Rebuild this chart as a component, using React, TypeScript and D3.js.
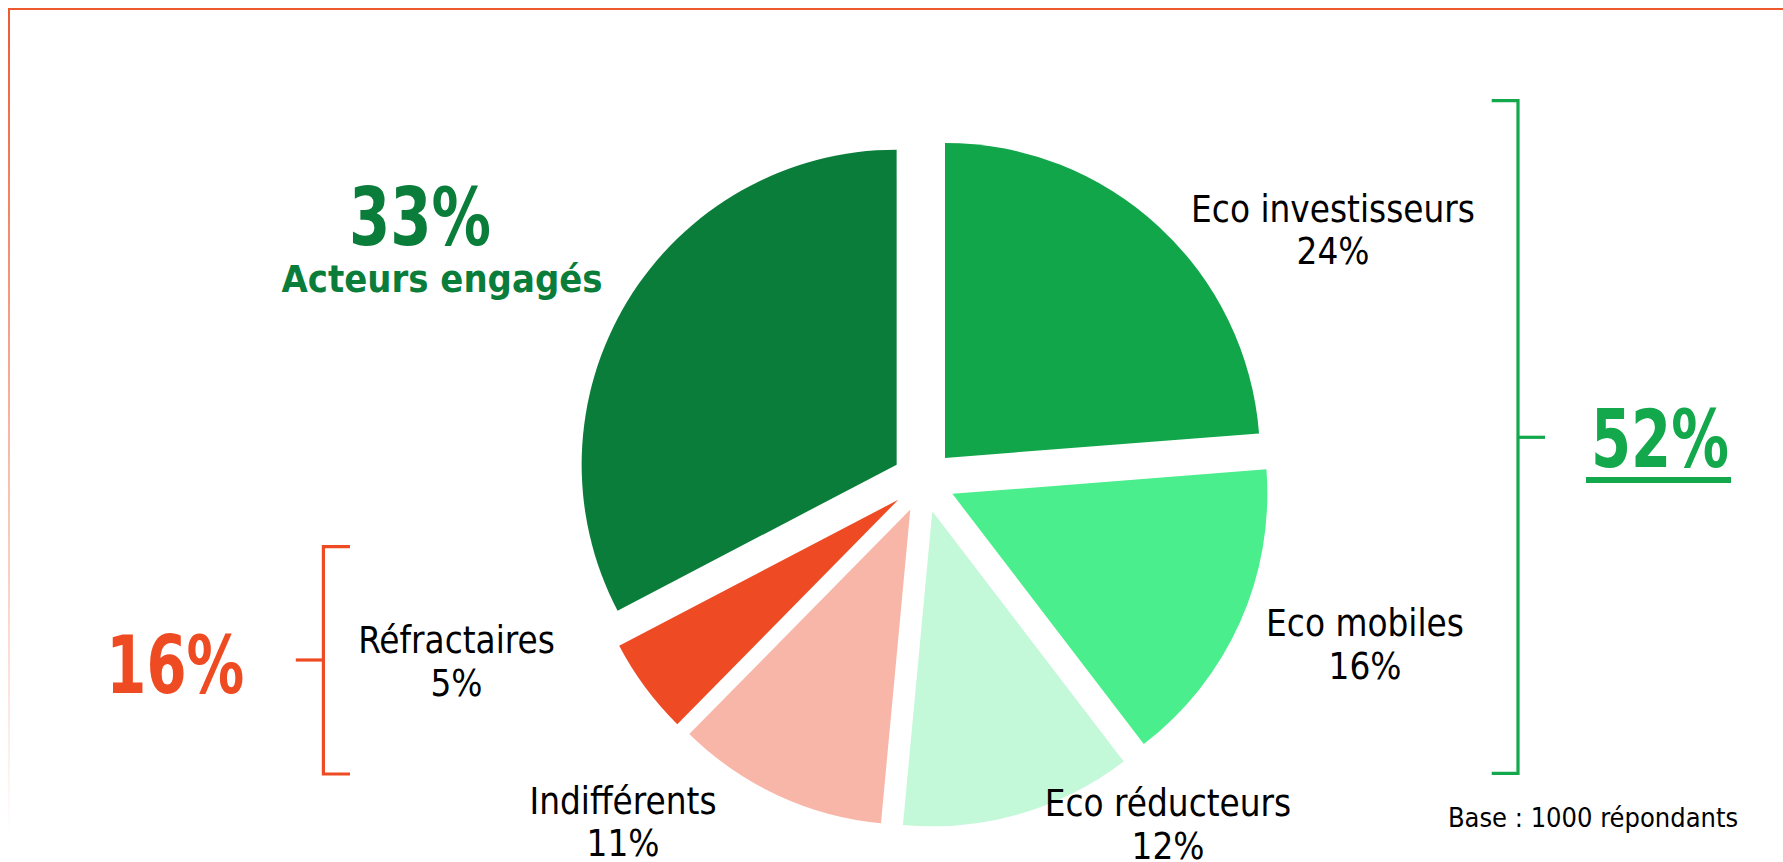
import React from "react";
import * as d3 from "d3";

const categories = ["Eco investisseurs", "Eco mobiles", "Eco réducteurs", "Indifférents", "Réfractaires", "Acteurs engagés"];
const values = [24, 16, 12, 11, 5, 33];
const sliceColors = ["#12a64b", "#4bee8c", "#c3f8d9", "#f7b6a8", "#ee4b24", "#0b7d3a"];
const valueLabels = ["24%", "16%", "12%", "11%", "5%", "33%"];
const groupTotals = ["52%", "16%"];
const baseNote = "Base : 1000 répondants";

const W = 1783;
const H = 862;
const FONT = "'DejaVu Sans Condensed', 'DejaVu Sans', sans-serif";

// label positions (center x, first baseline y)
const labelPos: Record<string, [number, number]> = {
  "Eco investisseurs": [1333, 221.5],
  "Eco mobiles": [1365, 636],
  "Eco réducteurs": [1168, 816],
  "Indifférents": [623, 813.5],
  "Réfractaires": [456.5, 653],
};

export default function App() {
  const cx = 923.6;
  const cy = 481;
  const r = 315;
  const explode = 31.5;

  const pie = d3.pie<number>().sort(null).value((d) => d)(values);
  const arc = d3.arc<d3.PieArcDatum<number>>().innerRadius(0).outerRadius(r);

  const green = "#12a84b";
  const orange = "#ef4b23";

  return (
    <div style={{ position: "absolute", left: 0, top: 0 }}>
      <svg width={W} height={H} style={{ display: "block", background: "#fff" }}>
        <defs>
          <linearGradient id="leftFade" x1="0" y1="0" x2="0" y2="1">
            <stop offset="0" stopColor="#ee5a2f" stopOpacity="1" />
            <stop offset="0.5" stopColor="#ee5a2f" stopOpacity="0.45" />
            <stop offset="1" stopColor="#ee5a2f" stopOpacity="0" />
          </linearGradient>
        </defs>
        {/* frame */}
        <line x1={8} x2={W} y1={9} y2={9} stroke="#ee5a2f" strokeWidth={2} />
        <rect x={8} y={9} width={2} height={830} fill="url(#leftFade)" />

        {/* pie */}
        <g transform={`translate(${cx},${cy})`}>
          {pie.map((p, i) => {
            const mid = (p.startAngle + p.endAngle) / 2;
            const dx = Math.sin(mid) * explode;
            const dy = -Math.cos(mid) * explode;
            return (
              <path key={categories[i]} d={arc(p) || ""} fill={sliceColors[i]} transform={`translate(${dx},${dy})`} />
            );
          })}
        </g>

        {/* slice labels */}
        {categories.slice(0, 5).map((c, i) => {
          const [x, y] = labelPos[c];
          return (
            <text key={c} x={x} y={y} textAnchor="middle" fontFamily={FONT} fontSize={36.5} fill="#000">
              <tspan x={x} y={y}>{c}</tspan>
              <tspan x={x} y={y + 42.5}>{valueLabels[i]}</tspan>
            </text>
          );
        })}

        {/* Acteurs engagés */}
        <text x={420} y={245} textAnchor="middle" fontFamily={FONT} fontWeight="bold" fontSize={80} fill={sliceColors[5]}
          textLength={142} lengthAdjust="spacingAndGlyphs">
          {valueLabels[5]}
        </text>
        <text x={442} y={291.5} textAnchor="middle" fontFamily={FONT} fontWeight="bold" fontSize={37.8} fill={sliceColors[5]}>
          {categories[5]}
        </text>

        {/* green bracket */}
        <path d="M1491.7,100.7 H1518 V773.3 H1491.7" fill="none" stroke={green} strokeWidth={3.2} />
        <line x1={1518} x2={1545} y1={437.3} y2={437.3} stroke={green} strokeWidth={3.2} />
        <text x={1660} y={467.3} textAnchor="middle" fontFamily={FONT} fontWeight="bold" fontSize={80} fill={green}
          textLength={138} lengthAdjust="spacingAndGlyphs">
          {groupTotals[0]}
        </text>
        <rect x={1586} y={477} width={145} height={6} fill={green} />

        {/* orange bracket */}
        <path d="M350,546.7 H323.4 V774 H350" fill="none" stroke={orange} strokeWidth={3.2} />
        <line x1={295.8} x2={323.4} y1={660} y2={660} stroke={orange} strokeWidth={3.2} />
        <text x={175.3} y={692.7} textAnchor="middle" fontFamily={FONT} fontWeight="bold" fontSize={80} fill={orange}
          textLength={138} lengthAdjust="spacingAndGlyphs">
          {groupTotals[1]}
        </text>

        {/* base note */}
        <text x={1593} y={826.7} textAnchor="middle" fontFamily={FONT} fontSize={27} fill="#000">
          {baseNote}
        </text>
      </svg>
    </div>
  );
}
